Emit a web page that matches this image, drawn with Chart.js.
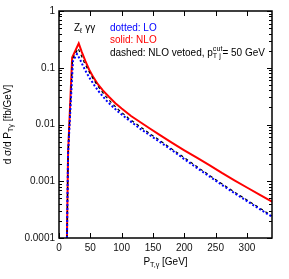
<!DOCTYPE html>
<html><head><meta charset="utf-8">
<script src="https://cdn.jsdelivr.net/npm/chart.js@4.4.1/dist/chart.umd.min.js"></script>
<style>html,body{margin:0;padding:0;background:#fff}canvas{display:block}</style>
</head><body>
<canvas id="c" width="289" height="279"></canvas>
<script>
// ---- data ----
const ptNLO  = [12.7, 14.5, 21, 31.5, 36, 42, 48, 55, 62, 70, 80, 90, 100, 115, 130, 145, 160, 180, 200, 220, 240, 260, 280, 300, 320, 340];
const nlo    = [0.0001, 0.00316, 0.151, 0.2692, 0.195, 0.1318, 0.0933, 0.0676, 0.0513, 0.0398, 0.0305, 0.0237, 0.0191, 0.0141, 0.01096, 0.00851, 0.00661, 0.00479, 0.00351, 0.0026, 0.00193, 0.0014, 0.00104, 0.000776, 0.000582, 0.000437];
const ptLO   = [12.7, 14.5, 22.3, 28.7, 33, 38, 44, 50, 57, 65, 75, 85, 95, 110, 129, 145, 160, 180, 200, 220, 240, 260, 280, 300, 320, 340];
const lo     = [0.0001, 0.00316, 0.1318, 0.1746, 0.1445, 0.1096, 0.0813, 0.0631, 0.0479, 0.0363, 0.0269, 0.0209, 0.0166, 0.0123, 0.00851, 0.00646, 0.00501, 0.00355, 0.00245, 0.00172, 0.00122, 0.000861, 0.000617, 0.000447, 0.000324, 0.000237];
const ptVeto = [12.7, 14.5, 21.5, 30.5, 35, 40, 45, 50, 57, 65, 75, 85, 95, 110, 129, 145, 160, 180, 200, 220, 240, 260, 280, 300, 320, 340];
const veto   = [0.0001, 0.00316, 0.1413, 0.2188, 0.1698, 0.1259, 0.0977, 0.0776, 0.0575, 0.0427, 0.0309, 0.0234, 0.0182, 0.0132, 0.00923, 0.00692, 0.00531, 0.00372, 0.0026, 0.00182, 0.00127, 0.000902, 0.000646, 0.000468, 0.000339, 0.000245];
const xTicks = [0, 50, 100, 150, 200, 250, 300];
const yTicks = [0.0001, 0.001, 0.01, 0.1, 1];
const yTickLabels = ['0.0001', '0.001', '0.01', '0.1', '1'];

const FONT = '"Liberation Sans", Arial, sans-serif';
const pts = (xs, ys) => xs.map((x, i) => ({x, y: ys[i]}));

function rich(ctx, parts, x, y, size) {
  let cx = x;
  for (const p of parts) {
    if (p.k === 'stack') {
      ctx.font = (size * 0.72) + 'px ' + FONT;
      const w = Math.max(ctx.measureText(p.sup).width, ctx.measureText(p.sub).width);
      ctx.fillText(p.sup, cx, y - size * 0.42);
      ctx.fillText(p.sub, cx, y + size * 0.3);
      cx += w;
    } else {
      const s = p.k === 'n' ? size : size * 0.72;
      const dy = p.k === 'sub' ? size * 0.3 : (p.k === 'sup' ? -size * 0.42 : 0);
      ctx.font = s + 'px ' + FONT;
      ctx.fillText(p.t, cx, y + dy);
      cx += ctx.measureText(p.t).width;
    }
  }
  return cx - x;
}
function richWidth(ctx, parts, size) {
  let w = 0;
  for (const p of parts) {
    if (p.k === 'stack') { ctx.font = (size*0.72)+'px '+FONT; w += Math.max(ctx.measureText(p.sup).width, ctx.measureText(p.sub).width); }
    else { ctx.font = (p.k==='n'?size:size*0.72)+'px '+FONT; w += ctx.measureText(p.t).width; }
  }
  return w;
}

const deco = {
  id: 'deco',
  afterDatasetsDraw(chart) {
    const {ctx, chartArea: a, scales: {x, y}} = chart;
    ctx.save();
    ctx.strokeStyle = '#000';
    ctx.lineWidth = 1;
    ctx.beginPath();
    xTicks.forEach(v => {
      const px = Math.round(x.getPixelForValue(v)) + 0.5;
      ctx.moveTo(px, a.bottom); ctx.lineTo(px, a.bottom - 5);
      ctx.moveTo(px, a.top); ctx.lineTo(px, a.top + 5);
    });
    for (let d = 0; d < yTicks.length; d++) {
      const base = yTicks[d];
      const maxM = d === yTicks.length - 1 ? 1 : 9;
      for (let m = 1; m <= maxM; m++) {
        const py = Math.round(y.getPixelForValue(base * m)) + 0.5;
        const len = m === 1 ? 5 : 3;
        ctx.moveTo(a.left, py); ctx.lineTo(a.left + len, py);
        ctx.moveTo(a.right, py); ctx.lineTo(a.right - len, py);
      }
    }
    ctx.stroke();
    ctx.lineWidth = 1.5;
    ctx.strokeRect(a.left, a.top, a.right - a.left, a.bottom - a.top);

    ctx.textBaseline = 'middle';
    ctx.textAlign = 'left';
    ctx.fillStyle = '#000';
    rich(ctx, [{t:'Z',k:'n'},{t:'ℓ',k:'sub'},{t:' γγ',k:'n'}], 74, 28, 10);
    ctx.fillStyle = '#0000ff';
    rich(ctx, [{t:'dotted: LO',k:'n'}], 110, 28, 10);
    ctx.fillStyle = '#ff0000';
    rich(ctx, [{t:'solid: NLO',k:'n'}], 110, 40, 10);
    ctx.fillStyle = '#000';
    rich(ctx, [{t:'dashed: NLO vetoed, p',k:'n'},{k:'stack',sup:'cut',sub:'T j'},{t:'= 50 GeV',k:'n'}], 110, 53, 10);

    const xt = [{t:'P',k:'n'},{t:'T,γ',k:'sub'},{t:' [GeV]',k:'n'}];
    const xw = richWidth(ctx, xt, 10);
    rich(ctx, xt, (a.left + a.right) / 2 - xw / 2, 262, 10);
    const yt = [{t:'d σ/d P',k:'n'},{t:'Tγ',k:'sub'},{t:' [fb/GeV]',k:'n'}];
    const yw = richWidth(ctx, yt, 10);
    ctx.translate(8, (a.top + a.bottom) / 2);
    ctx.rotate(-Math.PI / 2);
    rich(ctx, yt, -yw / 2, 0, 10);
    ctx.restore();
  }
};

new Chart(document.getElementById('c'), {
  type: 'line',
  data: {
    datasets: [
      {label: 'LO', data: pts(ptLO, lo), borderColor: '#0000ff', borderWidth: 2, borderDash: [2, 2], pointRadius: 0, fill: false, tension: 0, order: 0},
      {label: 'NLO vetoed', data: pts(ptVeto, veto), borderColor: '#000000', borderWidth: 1.2, borderDash: [3, 3], pointRadius: 0, fill: false, tension: 0, order: 1},
      {label: 'NLO', data: pts(ptNLO, nlo), borderColor: '#ff0000', borderWidth: 2, pointRadius: 0, fill: false, tension: 0, order: 2}
    ]
  },
  options: {
    responsive: false,
    animation: false,
    devicePixelRatio: 1,
    layout: {padding: {top: 11, right: 17, left: 0, bottom: 0}},
    plugins: {legend: {display: false}, tooltip: {enabled: false}},
    scales: {
      x: {
        type: 'linear', min: 0, max: 340,
        afterBuildTicks: s => { s.ticks = xTicks.map(v => ({value: v})); },
        afterFit: s => { s.height = 41; },
        grid: {display: false, drawTicks: false},
        border: {display: false},
        ticks: {padding: 4, color: '#111', font: {family: FONT, size: 10}, maxRotation: 0, callback: v => String(v)}
      },
      y: {
        type: 'logarithmic', min: 0.0001, max: 1,
        afterBuildTicks: s => { s.ticks = yTicks.map(v => ({value: v})); },
        afterFit: s => { s.width = 59; },
        grid: {display: false, drawTicks: false},
        border: {display: false},
        ticks: {padding: 4, color: '#111', font: {family: FONT, size: 10}, callback: v => yTickLabels[yTicks.indexOf(v)] ?? ''}
      }
    }
  },
  plugins: [deco]
});
</script>
</body></html>
